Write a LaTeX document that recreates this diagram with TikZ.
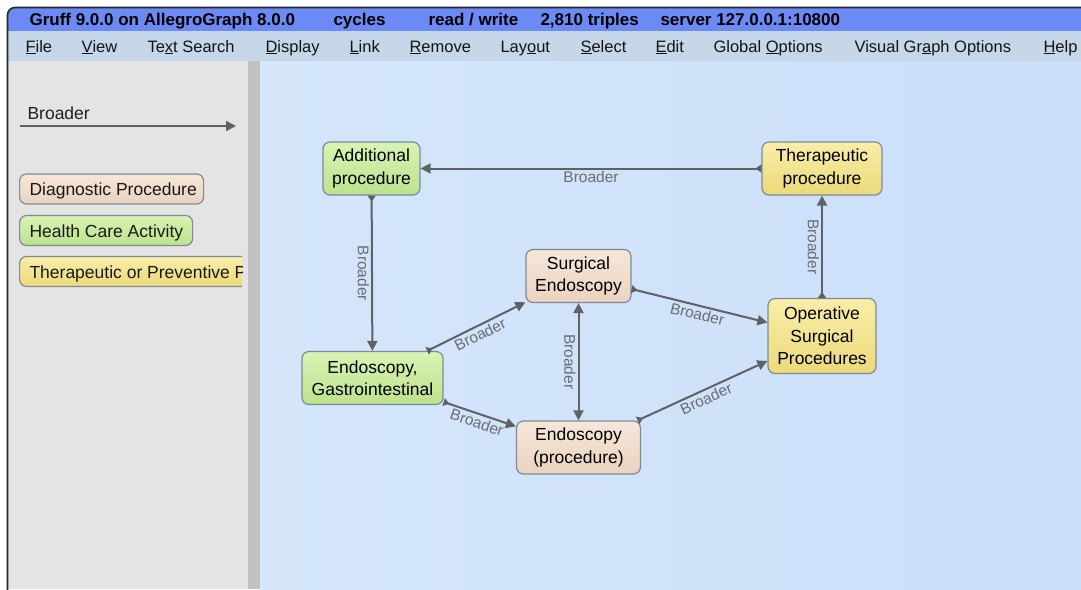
\documentclass[tikz,border=0pt]{standalone}
\usepackage{fontspec}
\setmainfont{Liberation Sans}
\usetikzlibrary{arrows.meta}

\definecolor{titleblue}{HTML}{6C8AF5}
\definecolor{menubg}{HTML}{C6D7EA}
\definecolor{panelgray}{HTML}{E4E4E4}
\definecolor{dividergray}{HTML}{C2C2C2}
\definecolor{canvasA}{HTML}{D5E6FB}
\definecolor{canvasB}{HTML}{CBDFFA}
\definecolor{edgegray}{HTML}{5F6265}
\definecolor{labelgray}{HTML}{6A6D71}
\definecolor{nodeborder}{HTML}{7D8B99}
\definecolor{greenT}{HTML}{D9F3B4}
\definecolor{greenB}{HTML}{BCE28D}
\definecolor{tanT}{HTML}{F6E7D9}
\definecolor{tanB}{HTML}{EAD3BF}
\definecolor{yellowT}{HTML}{F9EEA9}
\definecolor{yellowB}{HTML}{ECD97A}

\newcommand\ulk[1]{\underline{#1}}

\tikzset{
  concept/.style={draw=nodeborder, line width=1.2pt, rounded corners=7pt,
    align=center, inner sep=0pt, text=black,
    font=\fontsize{17.5}{22.5}\selectfont},
  hca/.style={concept, top color=greenT, bottom color=greenB},
  diag/.style={concept, top color=tanT, bottom color=tanB},
  ther/.style={concept, top color=yellowT, bottom color=yellowB},
  pill/.style={draw=nodeborder, line width=1.2pt, rounded corners=14pt,
    minimum height=30pt, inner sep=0pt, anchor=west},
  pilltext/.style={anchor=base west, font=\fontsize{17.5}{20}\selectfont, text=black!90},
  rel/.style={draw=edgegray, line width=2pt,
    arrows={Triangle[reversed, length=6pt, width=8pt]-Triangle[length=10pt, width=10pt]}},
  relrev/.style={draw=edgegray, line width=2pt,
    arrows={Triangle[length=10pt, width=10pt]-Triangle[reversed, length=6pt, width=8pt]}},
  relboth/.style={draw=edgegray, line width=2pt,
    arrows={Triangle[length=10pt, width=10pt]-Triangle[length=10pt, width=10pt]}},
  elabel/.style={font=\fontsize{15.5}{16}\selectfont, text=labelgray,
    inner sep=2pt, anchor=north},
  vlabel/.style={elabel, rotate=-90},
  menuitem/.style={anchor=base west, font=\fontsize{16.5}{18}\selectfont, text=black!92},
  titleitem/.style={anchor=base west, font=\bfseries\fontsize{17}{18}\selectfont, text=black},
}

\begin{document}
\begin{tikzpicture}[x=1pt, y=-1pt]
  \useasboundingbox (0,0) rectangle (1081,589);
  \fill[white] (0,0) rectangle (1081,589);

  % window chrome
  \fill[titleblue, rounded corners=7pt] (8,40) -- (8,8) -- (1090,8) -- (1090,40) -- cycle;
  \fill[menubg] (8,31) rectangle (1081,61);
  \fill[panelgray] (8,61) rectangle (248,589);
  \fill[dividergray] (248,61) rectangle (260,589);
  \shade[left color=canvasA, right color=canvasB] (260,61) rectangle (1081,589);
  \draw[black!85, line width=1.6pt, rounded corners=7.5pt] (7.5,600) -- (7.5,7.5) -- (1095,7.5);

  % title bar
  \node[titleitem] (t1) at (26,25) {Gruff 9.0.0 on AllegroGraph 8.0.0};
  \node[titleitem] (t2) at (330,25) {cycles};
  \node[titleitem] (t3) at (425,25) {read / write};
  \node[titleitem] (t4) at (537,25) {2,810 triples};
  \node[titleitem] (t5) at (657,25) {server 127.0.0.1:10800};

  % menu bar
  \node[menuitem] (m1) at (22,52) {\ulk{F}ile};
  \node[menuitem] (m2) at (78,52) {\ulk{V}iew};
  \node[menuitem] (m3) at (144,52) {Te\ulk{x}t Search};
  \node[menuitem] (m4) at (262,52) {\ulk{D}isplay};
  \node[menuitem] (m5) at (346,52) {\ulk{L}ink};
  \node[menuitem] (m6) at (406,52) {\ulk{R}emove};
  \node[menuitem] (m7) at (497,52) {Lay\ulk{o}ut};
  \node[menuitem] (m8) at (577,52) {\ulk{S}elect};
  \node[menuitem] (m9) at (652,52) {\ulk{E}dit};
  \node[menuitem] (m10) at (710,52) {Global \ulk{O}ptions};
  \node[menuitem] (m11) at (851,52) {Visual Gr\ulk{a}ph Options};
  \node[menuitem] (m12) at (1040,52) {\ulk{H}elp};

  % legend
  \node[anchor=base west, font=\fontsize{17.5}{18}\selectfont, text=black!88] (lgtext) at (24,119) {Broader};
  \coordinate (lgA) at (20,126);
  \coordinate (lgB) at (236,126);
  \draw[draw=edgegray, line width=2pt, -{Triangle[length=10pt, width=10pt]}] (lgA) -- (lgB);

  \node[pill, diag, minimum width=184pt] (lg1) at (19,189) {};
  \node[pilltext] (lg1t) at (26,195.5) {Diagnostic Procedure};
  \node[pill, hca, minimum width=173pt] (lg2) at (19,230.5) {};
  \node[pilltext] (lg2t) at (26,237) {Health Care Activity};
  \begin{scope}
    \clip (0,245) rectangle (242,300);
    \node[pill, ther, minimum width=330pt] (lg3) at (19,271.5) {};
    \node[pilltext] (lg3t) at (26,278) {Therapeutic or Preventive Procedure};
  \end{scope}

  % concept nodes
  \node[hca, minimum width=97pt, minimum height=53pt] (add) at (371.5,168.5) {Additional\\procedure};
  \node[ther, minimum width=120pt, minimum height=53pt] (thp) at (822,168.5) {Therapeutic\\procedure};
  \node[diag, minimum width=105pt, minimum height=53pt] (se) at (578.5,276) {Surgical\\Endoscopy};
  \node[hca, minimum width=141pt, minimum height=53pt] (egi) at (372.5,378) {Endoscopy,\\Gastrointestinal};
  \node[diag, minimum width=124pt, minimum height=53pt] (ep) at (578.5,447.5) {Endoscopy\\(procedure)};
  \node[ther, minimum width=108pt, minimum height=75pt] (osp) at (822,336) {Operative\\Surgical\\Procedures};

  % relations
  \draw[rel] (thp) -- node[elabel, sloped] {Broader} (add);
  \draw[rel] (add) -- node[vlabel] {Broader} (egi);
  \draw[rel] (egi) -- node[elabel, sloped] {Broader} (se);
  \draw[rel] (egi) -- node[elabel, sloped] {Broader} (ep);
  \draw[relboth] (se) -- node[vlabel] {Broader} (ep);
  \draw[rel] (se) -- node[elabel, sloped] {Broader} (osp);
  \draw[rel] (ep) -- node[elabel, sloped] {Broader} (osp);
  \draw[relrev] (thp) -- node[vlabel] {Broader} (osp);
\end{tikzpicture}
\end{document}
